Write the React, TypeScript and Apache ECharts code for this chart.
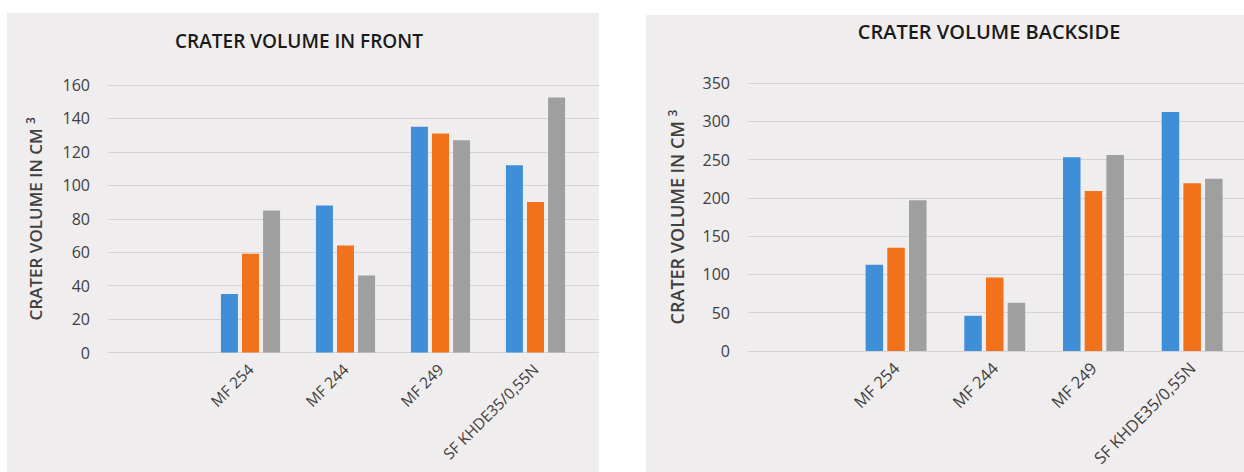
import React, { useEffect, useRef } from "react";
import * as echarts from "echarts";

const samples = ["MF 254", "MF 244", "MF 249", "SF KHDE35/0,55N"];

const frontBlue = [35, 88, 135, 112];
const frontOrange = [59, 64, 131, 90];
const frontGray = [85, 46, 127, 152.5];
const frontTicks = { min: 0, max: 160, interval: 20 };

const backBlue = [112.5, 46, 253, 312];
const backOrange = [135, 96, 209, 219];
const backGray = [197, 63, 256, 225];
const backTicks = { min: 0, max: 350, interval: 50 };

const FONT = "'Open Sans', 'Noto Sans', sans-serif";
const BLUE = "#3f8ed8";
const ORANGE = "#f2711b";
const GRAY = "#9f9f9f";
const PANEL_BG = "#f0edee";
const TEXT = "#404040";

// leading empty category and trailing (clipped) empty category
const categories = ["", ...samples, ""];
const pad = (arr: number[]) => [null, ...arr, null];

type PanelProps = {
  title: string;
  titleX: number;
  titleY: number;
  titleSize: number;
  ticks: { min: number; max: number; interval: number };
  blue: number[];
  orange: number[];
  gray: number[];
  gridLeft: number;
  gridTop: number;
  gridHeight: number;
  band: number;
  barWidth: number;
  nameGap: number;
  nameSize: number;
  labelSize: number;
  box: { left: number; top: number; width: number; height: number };
};

function Panel(p: PanelProps) {
  const ref = useRef<HTMLDivElement>(null);
  useEffect(() => {
    if (!ref.current) return;
    const chart = echarts.init(ref.current, undefined, { renderer: "svg" });
    const series = [
      { data: pad(p.blue), color: BLUE },
      { data: pad(p.orange), color: ORANGE },
      { data: pad(p.gray), color: GRAY },
    ].map((s) => ({
      type: "bar",
      data: s.data,
      barWidth: p.barWidth,
      barGap: "24%",
      itemStyle: { color: s.color },
    }));
    chart.setOption({
      animation: false,
      backgroundColor: "transparent",
      textStyle: { fontFamily: FONT },
      graphic: [
        {
          type: "text",
          x: p.titleX,
          y: p.titleY,
          style: {
            text: p.title,
            textAlign: "center",
            textVerticalAlign: "middle",
            fontFamily: FONT,
            fontSize: p.titleSize,
            fontWeight: 600,
            fill: "#1a1a1a",
          },
        },
      ],
      grid: {
        left: p.gridLeft,
        top: p.gridTop,
        width: p.band * categories.length,
        height: p.gridHeight,
        containLabel: false,
      },
      xAxis: {
        type: "category",
        data: categories,
        axisLine: { show: true, lineStyle: { color: "#d6d3d4", width: 1 } },
        axisTick: { show: false },
        axisLabel: {
          interval: 0,
          rotate: 45,
          margin: 14,
          color: TEXT,
          fontFamily: FONT,
          fontSize: p.labelSize,
        },
      },
      yAxis: {
        type: "value",
        min: p.ticks.min,
        max: p.ticks.max,
        interval: p.ticks.interval,
        axisLine: { show: false },
        axisTick: { show: false },
        axisLabel: { margin: 18, color: TEXT, fontFamily: FONT, fontSize: 16 },
        splitLine: { lineStyle: { color: "#d6d3d4", width: 1 } },
        name: "CRATER VOLUME IN CM {sup|3}",
        nameLocation: "middle",
        nameRotate: 90,
        nameGap: p.nameGap,
        nameTextStyle: {
          color: TEXT,
          fontFamily: FONT,
          fontSize: p.nameSize,
          fontWeight: 600,
          rich: {
            sup: {
              fontSize: 12,
              fontWeight: 600,
              color: TEXT,
              fontFamily: FONT,
              padding: [0, 0, 10, 0],
            },
          },
        },
      },
      series,
    });
    return () => chart.dispose();
  }, []);

  return (
    <div
      style={{
        position: "absolute",
        left: p.box.left,
        top: p.box.top,
        width: p.box.width,
        height: p.box.height,
        background: PANEL_BG,
        overflow: "hidden",
      }}
    >
      <div ref={ref} style={{ width: 720, height: p.box.height }} />
    </div>
  );
}

export default function App() {
  return (
    <div
      style={{
        position: "fixed",
        left: 0,
        top: 0,
        width: 1244,
        height: 472,
        background: "#ffffff",
        overflow: "hidden",
      }}
    >
      <Panel
        title="CRATER VOLUME IN FRONT"
        titleX={292}
        titleY={28}
        titleSize={19}
        ticks={frontTicks}
        blue={frontBlue}
        orange={frontOrange}
        gray={frontGray}
        gridLeft={101}
        gridTop={72}
        gridHeight={267.5}
        band={95}
        barWidth={17}
        nameGap={62}
        nameSize={17}
        labelSize={15.5}
        box={{ left: 7, top: 13, width: 592, height: 459 }}
      />
      <Panel
        title="CRATER VOLUME BACKSIDE"
        titleX={343}
        titleY={16}
        titleSize={20}
        ticks={backTicks}
        blue={backBlue}
        orange={backOrange}
        gray={backGray}
        gridLeft={102}
        gridTop={68}
        gridHeight={268}
        band={98.7}
        barWidth={17.5}
        nameGap={60}
        nameSize={18}
        labelSize={16.5}
        box={{ left: 646, top: 15, width: 598, height: 457 }}
      />
    </div>
  );
}
